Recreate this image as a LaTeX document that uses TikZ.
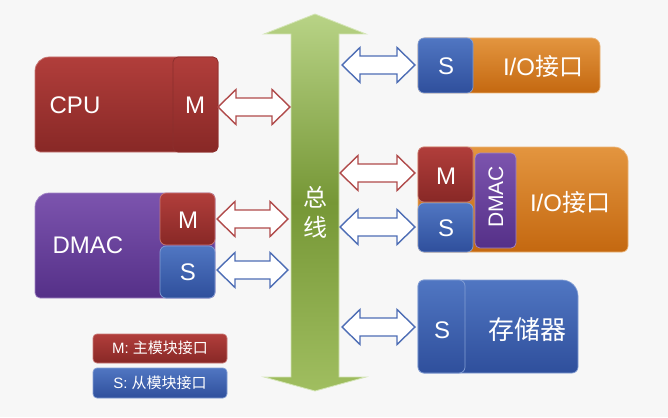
\documentclass[tikz,border=0pt]{standalone}
\usepackage{fontspec}
\setmainfont{Liberation Sans}
\newfontfamily\cjk{Noto Sans CJK SC}
\definecolor{bgc}{HTML}{F7F7F7}
\definecolor{redT}{HTML}{B13E3B}
\definecolor{redB}{HTML}{882826}
\definecolor{bluT}{HTML}{5076C2}
\definecolor{bluB}{HTML}{2F4F9C}
\definecolor{purT}{HTML}{7C54AE}
\definecolor{purB}{HTML}{553088}
\definecolor{orT}{HTML}{E3953F}
\definecolor{orB}{HTML}{C46810}
\definecolor{arrR}{HTML}{B04A4A}
\definecolor{arrB}{HTML}{4D6DB5}
\definecolor{grT}{HTML}{B8D386}
\definecolor{grM}{HTML}{769736}
\definecolor{grB}{HTML}{A0BE60}
\tikzset{
  redbox/.style={top color=redT, bottom color=redB, draw=redT!70!white, line width=0.7pt},
  blubox/.style={top color=bluT, bottom color=bluB, draw=bluT!70!white, line width=0.7pt},
  purbox/.style={top color=purT, bottom color=purB, draw=purT!70!white, line width=0.7pt},
  orbox/.style={top color=orT, bottom color=orB, draw=orT!70!white, line width=0.7pt},
  lbl/.style={text=white, inner sep=0pt, font=\fontsize{24}{24}\selectfont},
  small/.style={text=white, inner sep=0pt, font=\fontsize{15}{15}\selectfont},
  redarr/.style={fill=white, draw=arrR, line width=1.4pt, line join=miter},
  bluarr/.style={fill=white, draw=arrB, line width=1.4pt, line join=miter},
}
% style, x1, y1, x2, y2, rTL, rTR, rBR, rBL
\newcommand\rbox[9]{%
  \path[#1] (#2,{(#3+#5)/2}) [rounded corners=#6pt] -- (#2,#3) [rounded corners=#6pt] -- ({(#2+#4)/2},#3)
    [rounded corners=#7pt] -- (#4,#3) [rounded corners=#7pt] -- (#4,{(#3+#5)/2})
    [rounded corners=#8pt] -- (#4,#5) [rounded corners=#8pt] -- ({(#2+#4)/2},#5)
    [rounded corners=#9pt] -- (#2,#5) [rounded corners=#9pt] -- cycle;}
% style, xa, xb, yc
\newcommand\dblarr[4]{%
  \path[#1] (#2,#4) -- ({#2+18},{#4-17.5}) -- ({#2+18},{#4-9}) -- ({#3-18},{#4-9}) -- ({#3-18},{#4-17.5})
    -- (#3,#4) -- ({#3-18},{#4+17.5}) -- ({#3-18},{#4+9}) -- ({#2+18},{#4+9}) -- ({#2+18},{#4+17.5}) -- cycle;}
\begin{document}
\begin{tikzpicture}[x=1pt,y=-1pt]
\fill[bgc] (0,0) rectangle (668,417);
\useasboundingbox (0,0) rectangle (668,417);

% bus
\path[top color=grT, bottom color=grB, middle color=grM, draw=grT!60!white, line width=0.8pt, line join=miter]
  (315,14) -- (366,34) -- (339,34) -- (339,377) -- (366,377) -- (315,391) -- (264,377) -- (291,377)
  -- (291,34) -- (264,34) -- cycle;
\node[lbl, align=center] (bus) at (315,212) {\cjk 总\\[6pt]\cjk 线};

% CPU
\rbox{redbox}{35}{57}{218}{152}{14}{5}{5}{5}
\rbox{redbox, draw=redB!60!black!40!redT}{173}{57}{218}{152}{5}{5}{5}{5}
\node[lbl] (cpu) at (75,105) {CPU};
\node[lbl] (cpum) at (195,105) {M};
\dblarr{redarr}{218}{290}{107}

% DMAC
\rbox{purbox}{35}{193}{215}{298}{14}{5}{5}{5}
\rbox{redbox}{160}{193}{215}{245}{6}{6}{6}{6}
\rbox{blubox}{160}{246}{215}{298}{6}{6}{6}{6}
\node[lbl] (dmac) at (88,245) {DMAC};
\node[lbl] (dmacm) at (188,220) {M};
\node[lbl] (dmacs) at (188,272) {S};
\dblarr{redarr}{217}{288}{219}
\dblarr{bluarr}{217}{288}{270}

% top I/O
\rbox{orbox}{418}{38}{600}{93}{7}{8}{6}{6}
\rbox{blubox}{418}{38}{473}{93}{6}{6}{6}{6}
\node[lbl] (ios) at (446,66) {S};
\node[lbl] (io1) at (543,66) {I/O{\cjk 接口}};
\dblarr{bluarr}{342}{415}{65}

% middle I/O
\rbox{orbox}{418}{147}{628}{252}{6}{14}{6}{6}
\rbox{redbox}{418}{147}{473}{202}{6}{6}{6}{6}
\rbox{blubox}{418}{203}{473}{252}{6}{6}{6}{6}
\rbox{purbox}{475}{153}{516}{248}{5}{5}{5}{5}
\node[lbl] (io2m) at (446,176) {M};
\node[lbl] (io2s) at (446,228) {S};
\node[lbl, rotate=90, font=\fontsize{21}{21}\selectfont] (io2d) at (496,197) {DMAC};
\node[lbl] (io2) at (570,202) {I/O{\cjk 接口}};
\dblarr{redarr}{340}{415}{173}
\dblarr{bluarr}{340}{415}{227}

% storage
\rbox{blubox}{418}{280}{578}{373}{6}{16}{6}{6}
\rbox{blubox}{418}{280}{465}{373}{6}{6}{6}{6}
\node[lbl] (mems) at (442,330) {S};
\node[lbl, font=\fontsize{26}{26}\selectfont] (mem) at (527,330) {\cjk 存储器};
\dblarr{bluarr}{342}{415}{327}

% legend
\rbox{redbox}{93}{334}{227}{363}{4}{4}{4}{4}
\rbox{blubox}{93}{368}{227}{398}{4}{4}{4}{4}
\node[small] (legm) at (160,348) {M: {\cjk 主模块接口}};
\node[small] (legs) at (160,383) {S: {\cjk 从模块接口}};
\end{tikzpicture}
\end{document}
